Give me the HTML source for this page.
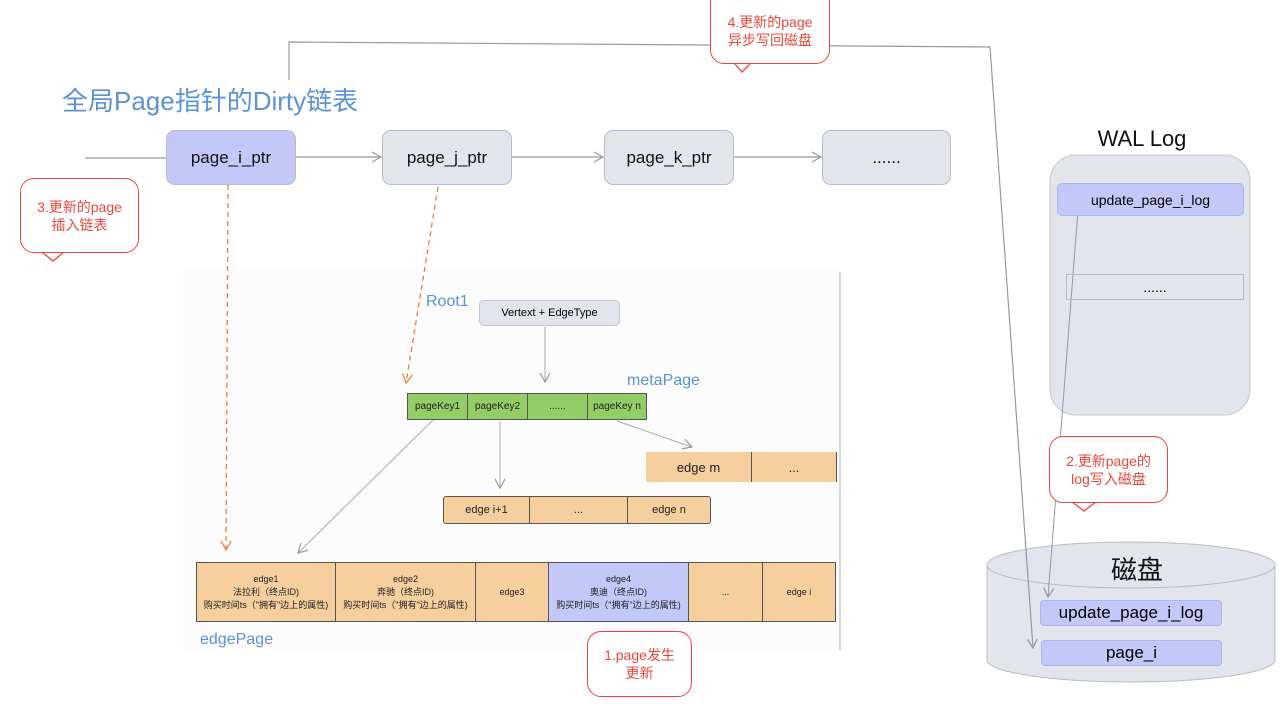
<!DOCTYPE html>
<html><head><meta charset="utf-8"><style>
body{margin:0;width:1280px;height:714px;background:#fff;position:relative;overflow:hidden;font-family:"Liberation Sans","Noto Sans CJK SC",sans-serif}
.a{position:absolute;box-sizing:border-box;display:flex;align-items:center;justify-content:center;text-align:center}
.n{border:1px solid #b8bcc6;border-radius:9px;font-size:17px;color:#111}
.c{border:1.3px solid #e8473b;border-radius:14px;color:#e8473b;font-size:14px;line-height:18px;background:#fff}
.t{position:absolute;color:#5b93d3}
.cell{position:absolute;box-sizing:border-box;display:flex;align-items:center;justify-content:center;text-align:center;border:1px solid #555;font-size:10px;line-height:13px;color:#222}
.o{background:#f6cf9f}
</style></head><body>
<div style="position:absolute;left:183px;top:270px;width:657px;height:382px;background:#fcfcfc"></div>
<svg width="1280" height="714" style="position:absolute;left:0;top:0">
<defs>
<marker id="ar" markerWidth="12" markerHeight="12" refX="10" refY="6" orient="auto" markerUnits="userSpaceOnUse"><path d="M1,1 L10,6 L1,11" fill="none" stroke="#999" stroke-width="1.2"/></marker>
<marker id="ao" markerWidth="12" markerHeight="12" refX="10" refY="6" orient="auto" markerUnits="userSpaceOnUse"><path d="M1,1 L10,6 L1,11" fill="none" stroke="#ee7b3a" stroke-width="1.2"/></marker>
</defs>
<rect x="1050" y="155" width="200" height="260" rx="26" fill="#e3e5ec" stroke="#c4c7cf"/>
<path d="M987,565 L987,660 A144,22 0 0 0 1275,660 L1275,565" fill="#e3e5ec" stroke="#b8bcc4"/>
<ellipse cx="1131" cy="565" rx="144" ry="23" fill="#e3e5ec" stroke="#b8bcc4"/>
<line x1="840" y1="272" x2="840" y2="650" stroke="#ccc" stroke-width="1.5"/>
<polyline points="289,80 289,42 990,47 1033,648" fill="none" stroke="#999" stroke-width="1.2" marker-end="url(#ar)"/>
<line x1="85" y1="158" x2="166" y2="158" stroke="#999" stroke-width="1.2"/>
<line x1="296" y1="157" x2="381" y2="157" stroke="#999" stroke-width="1.2" marker-end="url(#ar)"/>
<line x1="512" y1="157" x2="603" y2="157" stroke="#999" stroke-width="1.2" marker-end="url(#ar)"/>
<line x1="734" y1="157" x2="821" y2="157" stroke="#999" stroke-width="1.2" marker-end="url(#ar)"/>
<line x1="228" y1="185" x2="226" y2="550" stroke="#ee7b3a" stroke-width="1.3" stroke-dasharray="5,4" marker-end="url(#ao)"/>
<line x1="438" y1="187" x2="406" y2="383" stroke="#ee7b3a" stroke-width="1.3" stroke-dasharray="5,4" marker-end="url(#ao)"/>
<line x1="545" y1="327" x2="545" y2="382" stroke="#aaa" stroke-width="1" marker-end="url(#ar)"/>
<line x1="433" y1="420" x2="298" y2="553" stroke="#aaa" stroke-width="1" marker-end="url(#ar)"/>
<line x1="500" y1="421" x2="500" y2="488" stroke="#aaa" stroke-width="1" marker-end="url(#ar)"/>
<line x1="617" y1="421" x2="692" y2="447" stroke="#aaa" stroke-width="1" marker-end="url(#ar)"/>
<line x1="1078" y1="210" x2="1048" y2="597" stroke="#999" stroke-width="1" marker-end="url(#ar)"/>
<path d="M735,64 L742,72 L750,64" fill="#fff" stroke="#e8473b" stroke-width="1.3"/>
<path d="M42,252 L53,261 L64,252" fill="#fff" stroke="#e8473b" stroke-width="1.3"/>
<path d="M1072,502 L1084,511 L1096,502" fill="#fff" stroke="#e8473b" stroke-width="1.3"/>
</svg>
<div class="t" style="left:62px;top:81px;font-size:26px">全局Page指针的Dirty链表</div>
<div class="a n" style="left:166px;top:130px;width:130px;height:55px;background:#c4c8f8">page_i_ptr</div>
<div class="a n" style="left:382px;top:130px;width:130px;height:55px;background:#e3e5ec">page_j_ptr</div>
<div class="a n" style="left:604px;top:130px;width:130px;height:55px;background:#e3e5ec">page_k_ptr</div>
<div class="a n" style="left:822px;top:130px;width:129px;height:55px;background:#e3e5ec">......</div>
<div class="a c" style="left:710px;top:-14px;width:120px;height:78px;padding-top:12px;border-top-left-radius:0;border-top-right-radius:0">4.更新的page<br>异步写回磁盘</div>
<div class="a c" style="left:20px;top:178px;width:119px;height:75px">3.更新的page<br>插入链表</div>
<div class="a c" style="left:1049px;top:436px;width:119px;height:67px">2.更新page的<br>log写入磁盘</div>
<div class="a c" style="left:587px;top:631px;width:105px;height:66px">1.page发生<br>更新</div>
<div class="t" style="left:426px;top:293px;font-size:16px">Root1</div>
<div class="a" style="left:479px;top:300px;width:141px;height:26px;background:#e3e5ec;border:1px solid #c4c7cf;border-radius:5px;font-size:11px">Vertext + EdgeType</div>
<div class="t" style="left:627px;top:372px;font-size:16px">metaPage</div>
<div class="cell" style="left:407px;top:393px;width:61px;height:27px;background:#93cd66">pageKey1</div>
<div class="cell" style="left:467px;top:393px;width:61px;height:27px;background:#93cd66">pageKey2</div>
<div class="cell" style="left:527px;top:393px;width:61px;height:27px;background:#93cd66">......</div>
<div class="cell" style="left:587px;top:393px;width:60px;height:27px;background:#93cd66">pageKey n</div>
<div class="cell o" style="left:646px;top:452px;width:106px;height:30px;font-size:13px;border-left:none;border-top:none;border-bottom:none">edge m</div>
<div class="cell o" style="left:751px;top:452px;width:86px;height:30px;font-size:13px;border-top:none;border-bottom:none">...</div>
<div class="cell o" style="left:443px;top:496px;width:87px;height:28px;font-size:11px;border-radius:3px 0 0 3px">edge i+1</div>
<div class="cell o" style="left:529px;top:496px;width:99px;height:28px;font-size:11px">...</div>
<div class="cell o" style="left:627px;top:496px;width:84px;height:28px;font-size:11px;border-radius:0 3px 3px 0">edge n</div>
<div class="cell o" style="left:196px;top:562px;width:140px;height:60px;font-size:9px">edge1<br>法拉利（终点ID)<br>购买时间ts（"拥有"边上的属性)</div>
<div class="cell o" style="left:335px;top:562px;width:141px;height:60px;font-size:9px">edge2<br>奔驰（终点ID)<br>购买时间ts（"拥有"边上的属性)</div>
<div class="cell o" style="left:475px;top:562px;width:74px;height:60px;font-size:9px">edge3</div>
<div class="cell" style="left:548px;top:562px;width:141px;height:60px;font-size:9px;background:#c4c8f8">edge4<br>奥迪（终点ID)<br>购买时间ts（"拥有"边上的属性)</div>
<div class="cell o" style="left:688px;top:562px;width:75px;height:60px;font-size:9px">...</div>
<div class="cell o" style="left:762px;top:562px;width:74px;height:60px;font-size:9px">edge i</div>
<div class="t" style="left:200px;top:631px;font-size:16px">edgePage</div>
<div class="a" style="left:1080px;top:124px;width:124px;height:30px;font-size:22px;color:#111">WAL Log</div>
<div class="a" style="left:1057px;top:183px;width:187px;height:33px;background:#c4c8f8;border:1px solid #b0b4e8;border-radius:5px;font-size:14px">update_page_i_log</div>
<div class="a" style="left:1066px;top:274px;width:178px;height:26px;border:1px solid #b8bcc4;font-size:14px">......</div>
<div class="a" style="left:1090px;top:552px;width:94px;height:32px;font-size:26px;color:#111">磁盘</div>
<div class="a" style="left:1040px;top:600px;width:182px;height:26px;background:#c4c8f8;border:1px solid #b0b4e8;border-radius:4px;font-size:17px">update_page_i_log</div>
<div class="a" style="left:1041px;top:640px;width:181px;height:26px;background:#c4c8f8;border:1px solid #b0b4e8;border-radius:4px;font-size:17px">page_i</div>
</body></html>
